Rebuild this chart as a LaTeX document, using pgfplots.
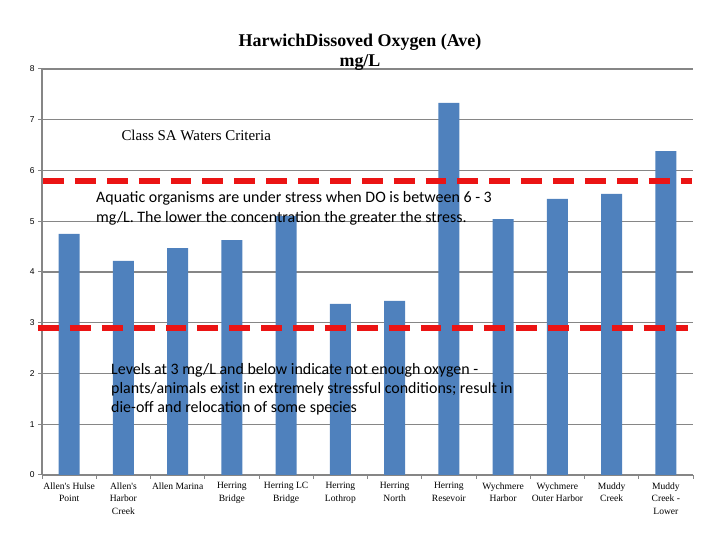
\documentclass[border=0pt]{standalone}
\usepackage{fontspec}
\setmainfont{Liberation Serif}
\newfontfamily\calibri{Carlito}
\newfontfamily\arialf{Liberation Sans}
\usepackage{pgfplots}
\pgfplotsset{compat=1.18}
\definecolor{barblue}{HTML}{4F81BD}
\definecolor{gridgray}{RGB}{134,134,134}
\definecolor{dashred}{RGB}{235,20,20}
\begin{document}
\begin{tikzpicture}[x=1bp,y=1bp]
\useasboundingbox (0,0) rectangle (720,540);
\begin{axis}[
  at={(42bp,65bp)}, anchor=south west,
  scale only axis, width=651bp, height=406bp,
  xmin=-0.5, xmax=11.5, ymin=0, ymax=8,
  ytick={0,...,8},
  xtick={0,...,11},
  xticklabels={{Allen\textquotesingle s Hulse\\Point},{Allen\textquotesingle s\\Harbor\\Creek},{Allen Marina},{Herring\\Bridge},{Herring LC\\Bridge},{Herring\\Lothrop},{Herring\\North},{Herring\\Resevoir},{Wychmere\\Harbor},{Wychmere\\Outer Harbor},{Muddy\\Creek},{Muddy\\Creek -\\Lower}},
  x tick label style={font=\fontsize{9.6}{12.5}\selectfont, align=center, anchor=north},
  y tick label style={font=\arialf\fontsize{8.5}{10}\selectfont},
  major x tick style={draw=none},
  minor xtick={-0.5,0.5,...,11.5},
  minor tick length=4bp,
  major tick length=4bp,
  tick align=outside,
  tick style={gridgray, line width=1bp},
  ymajorgrids,
  grid style={gridgray, line width=1.2bp},
  axis x line*=bottom, axis y line*=left,
  axis line style={gridgray, line width=1.2bp, -},
  ybar, bar width=21bp,
  /pgf/number format/assume math mode=true,
  clip=false,
]
\addplot[fill=barblue, draw=none] coordinates {
 (0,4.75) (1,4.22) (2,4.47) (3,4.63) (4,5.10) (5,3.37)
 (6,3.43) (7,7.33) (8,5.04) (9,5.44) (10,5.54) (11,6.38)};
\end{axis}
\draw[dashred, line width=6, dash pattern=on 21 off 11] (43,359) -- (692,359);
\draw[dashred, line width=6, dash pattern=on 21 off 11] (38,212) -- (688,212);
\node[font=\bfseries\fontsize{18}{20.5}\selectfont, align=center] at (360,488) {HarwichDissoved Oxygen (Ave)\\mg/L};
\node[anchor=west, font=\fontsize{15}{17}\selectfont] at (118,405) {Class SA Waters Criteria};
\node[anchor=west, align=left, inner sep=0, font=\calibri\fontsize{16}{20}\selectfont] at (96,332) {Aquatic organisms are under stress when DO is between 6 - 3\\mg/L. The lower the concentration the greater the stress.};
\node[anchor=west, align=left, inner sep=0, font=\calibri\fontsize{16}{19}\selectfont] at (111,151) {Levels at 3 mg/L and below indicate not enough oxygen -\\plants/animals exist in extremely stressful conditions; result in\\die-off and relocation of some species};
\end{tikzpicture}
\end{document}
